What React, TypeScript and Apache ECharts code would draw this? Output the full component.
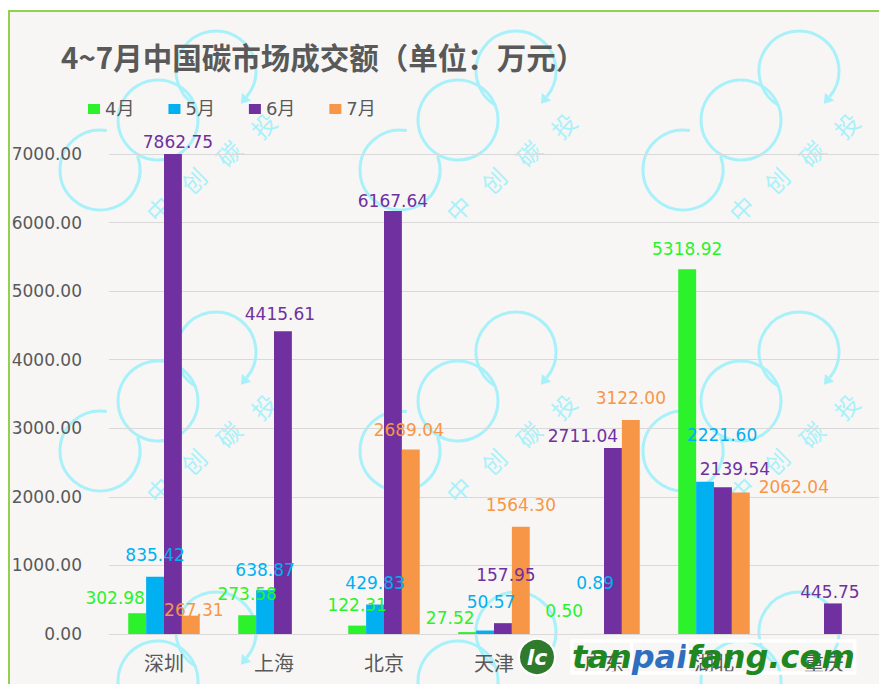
import React, { useEffect, useRef } from "react";
import * as echarts from "echarts";

// ---- data ----
const categories = ["深圳", "上海", "北京", "天津", "广东", "湖北", "重庆"];
const seriesNames = ["4月", "5月", "6月", "7月"];
const aprilValues: (number | null)[] = [302.98, 273.58, 122.31, 27.52, 0.5, 5318.92, null];
const mayValues: (number | null)[] = [835.42, 638.87, 429.83, 50.57, 0.89, 2221.6, null];
const juneValues: (number | null)[] = [7862.75, 4415.61, 6167.64, 157.95, 2711.04, 2139.54, 445.75];
const julyValues: (number | null)[] = [267.31, null, 2689.04, 1564.3, 3122.0, 2062.04, null];
const yMin = 0;
const yMax = 7000;
const yInterval = 1000;

// ---- style: label nudges (as placed in the original) ----
const aprilLabelOffsets = [[-22, 5], [0, -1], [0, 0], [-17, 6], [-13, -2], [0, 0], [0, 0]];
const mayLabelOffsets = [[0, -1], [0, 0], [0, -1], [6, -8], [0, -30], [17, -26], [0, 0]];
const juneLabelOffsets = [[5, 8], [-3, 3], [0, 10], [3, -28], [-30, 8], [12, 2], [-3, 9]];
const julyLabelOffsets = [[3, 15], [0, 0], [-2, 1], [0, -1], [0, -1], [53, 15], [0, 0]];

const colors = ["#2bf22b", "#00b0f0", "#7030a0", "#f79646"];
const TEXT = "#595959";
const CYAN = "#a9f1fa";
const CANVAS_H = 684;

function watermark(mx: number, my: number) {
  const els: any[] = [];
  const r = 40;
  const tcx = mx + 58, tcy = my - 49;
  const endA = 0.7;
  els.push({
    type: "arc",
    shape: { cx: tcx, cy: tcy, r, startAngle: 2.1, endAngle: Math.PI * 2 + endA, clockwise: true },
    style: { stroke: CYAN, lineWidth: 3, fill: "none" },
    silent: true,
  });
  const ex = tcx + r * Math.cos(endA), ey = tcy + r * Math.sin(endA);
  const tx = -Math.sin(endA), ty = Math.cos(endA);
  const nx = Math.cos(endA), ny = Math.sin(endA);
  els.push({
    type: "polygon",
    shape: {
      points: [
        [ex + tx * 9, ey + ty * 9],
        [ex + nx * 6, ey + ny * 6],
        [ex - nx * 6, ey - ny * 6],
      ],
    },
    style: { fill: CYAN },
    silent: true,
  });
  els.push({
    type: "circle",
    shape: { cx: mx, cy: my, r },
    style: { stroke: CYAN, lineWidth: 3, fill: "none" },
    silent: true,
  });
  els.push({
    type: "arc",
    shape: { cx: mx - 58, cy: my + 50, r, startAngle: -0.35, endAngle: Math.PI * 2 - 1.4, clockwise: true },
    style: { stroke: CYAN, lineWidth: 3, fill: "none" },
    silent: true,
  });
  const chars = ["中", "创", "碳", "投"];
  const pos = [[0, 88], [35, 60], [70, 33], [105, 5]];
  chars.forEach((c, i) => {
    const y = my + pos[i][1];
    if (y > CANVAS_H - 20) return;
    els.push({
      type: "text",
      x: mx + pos[i][0],
      y,
      rotation: Math.PI / 4,
      style: {
        text: c,
        fill: CYAN,
        fontSize: 24,
        fontFamily: "Noto Sans CJK SC",
        align: "center",
        verticalAlign: "middle",
      },
      silent: true,
    });
  });
  return els;
}

function buildSeriesData(values: (number | null)[], offsets: number[][]) {
  return values.map((v, i) =>
    v == null ? "-" : { value: v, label: { offset: offsets[i] } }
  );
}

export default function App() {
  const ref = useRef<HTMLDivElement>(null);
  useEffect(() => {
    if (!ref.current) return;
    const chart = echarts.init(ref.current, null, { renderer: "svg" });
    const allValues = [aprilValues, mayValues, juneValues, julyValues];
    const allOffsets = [aprilLabelOffsets, mayLabelOffsets, juneLabelOffsets, julyLabelOffsets];

    const wm: any[] = [];
    [158, 458, 741].forEach((x) => [120, 401, 681].forEach((y) => wm.push(...watermark(x, y))));

    const option: any = {
      animation: false,
      backgroundColor: "#f7f6f4",
      color: colors,
      title: {
        text: "4~7月中国碳市场成交额（单位：万元）",
        left: 61,
        top: 41,
        padding: 0,
        textStyle: {
          fontFamily: "Noto Sans CJK SC",
          fontWeight: "bold",
          fontSize: 29.5,
          color: TEXT,
        },
      },
      legend: {
        data: seriesNames,
        left: 88,
        top: 100,
        padding: 0,
        itemWidth: 12,
        itemHeight: 10,
        itemGap: 34,
        icon: "rect",
        textStyle: { fontFamily: "DejaVu Sans, Noto Sans CJK SC", fontSize: 18, color: TEXT },
      },
      grid: { left: 109, top: 154, width: 780, height: 480, containLabel: false },
      xAxis: {
        type: "category",
        data: categories,
        axisLine: { lineStyle: { color: "#d9d9d9", width: 1 } },
        axisTick: { show: false },
        axisLabel: {
          fontFamily: "Noto Sans CJK SC",
          fontSize: 20,
          color: TEXT,
          margin: 18,
          interval: 0,
        },
      },
      yAxis: {
        type: "value",
        min: yMin,
        max: yMax,
        interval: yInterval,
        axisLine: { show: false },
        axisTick: { show: false },
        splitLine: { lineStyle: { color: "#d9d9d9", width: 1 } },
        axisLabel: {
          fontFamily: "DejaVu Sans",
          fontSize: 17,
          color: TEXT,
          margin: 27,
          formatter: (v: number) => v.toFixed(2),
        },
      },
      series: seriesNames.map((name, si) => ({
        name,
        type: "bar",
        barGap: "0%",
        barCategoryGap: "35%",
        data: buildSeriesData(allValues[si], allOffsets[si]),
        itemStyle: { color: colors[si] },
        label: {
          show: true,
          position: "top",
          distance: 12,
          color: colors[si],
          fontFamily: "DejaVu Sans",
          fontSize: 17,
          formatter: (p: any) => Number(p.value).toFixed(2),
        },
      })),
      graphic: [
        {
          type: "rect",
          shape: { x: 0, y: 0, width: 879, height: 10 },
          style: { fill: "#ffffff" },
          silent: true,
          z: 200,
        },
        {
          type: "rect",
          shape: { x: 0, y: 0, width: 8, height: 684 },
          style: { fill: "#ffffff" },
          silent: true,
          z: 200,
        },
        {
          type: "line",
          shape: { x1: 9, y1: 11, x2: 879, y2: 11 },
          style: { stroke: "#92d050", lineWidth: 2 },
          silent: true,
          z: 201,
        },
        {
          type: "line",
          shape: { x1: 9, y1: 10, x2: 9, y2: 684 },
          style: { stroke: "#92d050", lineWidth: 2 },
          silent: true,
          z: 201,
        },
        ...wm,
        {
          type: "circle",
          shape: { cx: 537, cy: 657, r: 18 },
          style: { fill: "#2f7a2c", stroke: "#ffffff", lineWidth: 2 },
          silent: true,
          z: 150,
        },
        {
          type: "text",
          x: 537,
          y: 657,
          style: {
            text: "lc",
            fill: "#ffffff",
            fontSize: 22,
            fontWeight: "bold",
            fontStyle: "italic",
            fontFamily: "DejaVu Sans",
            align: "center",
            verticalAlign: "middle",
          },
          silent: true,
          z: 151,
        },
        {
          type: "text",
          x: 572,
          y: 657,
          style: {
            text: "{g|tan}{b|pai}{g|fang.com}",
            fontSize: 32,
            fontWeight: 900,
            fontStyle: "italic",
            fontFamily: "DejaVu Sans",
            verticalAlign: "middle",
            textBorderColor: "#ffffff",
            textBorderWidth: 3,
            rich: {
              g: {
                fill: "#1f871f",
                fontSize: 32,
                fontWeight: 900,
                fontStyle: "italic",
                fontFamily: "DejaVu Sans",
                textBorderColor: "#ffffff",
                textBorderWidth: 3,
              },
              b: {
                fill: "#2e6fbf",
                fontSize: 32,
                fontWeight: 900,
                fontStyle: "italic",
                fontFamily: "DejaVu Sans",
                textBorderColor: "#ffffff",
                textBorderWidth: 3,
              },
            },
          },
          silent: true,
          z: 151,
        },
      ],
    };
    chart.setOption(option);
    return () => chart.dispose();
  }, []);
  return (
    <div
      ref={ref}
      style={{ position: "absolute", left: 0, top: 0, width: 879, height: 684 }}
    />
  );
}
